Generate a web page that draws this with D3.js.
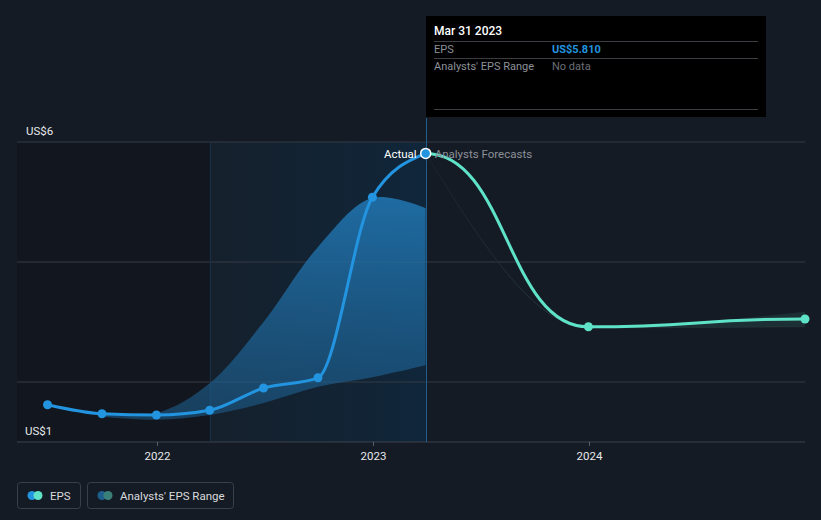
<!DOCTYPE html>
<html><head><meta charset="utf-8">
<script src="https://cdn.jsdelivr.net/npm/d3@7"></script>
<style>
html,body{margin:0;padding:0;background:#151b24;}
svg{display:block;font-family:Roboto,"Open Sans",sans-serif;}
</style></head>
<body>
<svg id="chart" width="821" height="520"></svg>
<script>
// ---- data ----
const actualDates = ["2021-06-30","2021-09-30","2021-12-31","2022-03-31","2022-06-30","2022-09-30","2022-12-31","2023-03-31"];
const actualEPS   = [1.62, 1.47, 1.45, 1.53, 1.90, 2.07, 5.08, 5.81];

const rangeDates  = ["2021-09-30","2021-12-31","2022-03-31","2022-06-30","2022-09-30","2022-12-31","2023-03-31"];
const rangeHigh   = [1.47, 1.48, 1.98, 3.00, 4.25, 5.07, 4.90];
const rangeLow    = [1.42, 1.37, 1.45, 1.65, 1.92, 2.08, 2.28];

const forecastDates = ["2023-03-31","2023-12-31","2024-12-31"];
const forecastEPS   = [5.81, 2.92, 3.05];
const forecastHigh  = [5.81, 2.92, 3.17];
const forecastLow   = [5.81, 2.90, 2.92];

const yTicks = [1, 2, 4, 6];
const yLabels = ["US$1", "US$6"];
const xTickYears = [2022, 2023, 2024];

// ---- setup ----
const svg = d3.select("#chart");
const parse = d3.timeParse("%Y-%m-%d");
const x = d3.scaleTime().domain([new Date(2022,0,1), new Date(2024,0,1)]).range([157, 589]);
const y = d3.scaleLinear().domain([1, 6]).range([442, 142]);
const left = 17, right = 805;
const cutDate = parse("2023-03-31");
const startRange = parse("2022-03-31");

const defs = svg.append("defs");
const g1 = defs.append("linearGradient").attr("id","hl").attr("x1","0").attr("x2","1").attr("y1","0").attr("y2","0");
g1.append("stop").attr("offset","0").attr("stop-color","#15202c");
g1.append("stop").attr("offset","1").attr("stop-color","#10263a");
const g2 = defs.append("linearGradient").attr("id","rangeFill").attr("x1","0").attr("x2","0").attr("y1","0").attr("y2","1");
g2.append("stop").attr("offset","0").attr("stop-color","#2178b5").attr("stop-opacity",0.85);
g2.append("stop").attr("offset","1").attr("stop-color","#1d5f8f").attr("stop-opacity",0.55);

// background zones
svg.append("rect").attr("x",left).attr("y",142).attr("width",x(startRange)-left).attr("height",300).attr("fill","#12161e");
svg.append("rect").attr("x",x(startRange)).attr("y",142).attr("width",x(cutDate)-x(startRange)).attr("height",300).attr("fill","url(#hl)");

// gridlines
svg.append("g").selectAll("line").data(yTicks).join("line")
  .attr("x1",left).attr("x2",right).attr("y1",d=>y(d)).attr("y2",d=>y(d))
  .attr("stroke", d=> d===1 ? "#3c424c" : "#343a44").attr("stroke-width",1);

// vertical markers
svg.append("line").attr("x1",Math.round(x(startRange))+0.5).attr("x2",Math.round(x(startRange))+0.5).attr("y1",142).attr("y2",442).attr("stroke","#182f44").attr("stroke-width",1);

// historic range area
const rangeData = rangeDates.map((d,i)=>({d:parse(d),h:rangeHigh[i],l:rangeLow[i]}));
svg.append("path").datum(rangeData)
  .attr("d", d3.area().x(d=>x(d.d)).y0(d=>y(d.l)).y1(d=>y(d.h)).curve(d3.curveCatmullRom.alpha(0.5)))
  .attr("fill","url(#rangeFill)");

// forecast range
const fData = forecastDates.map((d,i)=>({d:parse(d),v:forecastEPS[i],h:forecastHigh[i],l:forecastLow[i]}));
svg.append("path").datum(fData)
  .attr("d", d3.line().x(d=>x(d.d)).y(d=>y(d.l)).curve(d3.curveMonotoneX))
  .attr("fill","none").attr("stroke","#1e252e").attr("stroke-width",1);
svg.append("path").datum(fData)
  .attr("d", d3.area().x(d=>x(d.d)).y0(d=>y(d.l)).y1(d=>y(d.h)).curve(d3.curveMonotoneX))
  .attr("fill","#5fe3c8").attr("fill-opacity",0.1);

// cut line
svg.append("line").attr("x1",Math.round(x(cutDate))+0.5).attr("x2",Math.round(x(cutDate))+0.5).attr("y1",118).attr("y2",442).attr("stroke","#1f5f8f").attr("stroke-width",1);

// forecast line
svg.append("path").datum(fData)
  .attr("d", d3.line().x(d=>x(d.d)).y(d=>y(d.v)).curve(d3.curveBumpX))
  .attr("fill","none").attr("stroke","#5fe3c8").attr("stroke-width",3);
svg.append("g").selectAll("circle").data(fData.slice(1)).join("circle")
  .attr("cx",d=>x(d.d)).attr("cy",d=>y(d.v)).attr("r",4.5).attr("fill","#5fe3c8");

// actual line
const aData = actualDates.map((d,i)=>({d:parse(d),v:actualEPS[i]}));
svg.append("path").datum(aData)
  .attr("d", d3.line().x(d=>x(d.d)).y(d=>y(d.v)).curve(d3.curveMonotoneX))
  .attr("fill","none").attr("stroke","#2394df").attr("stroke-width",3);
svg.append("g").selectAll("circle").data(aData.slice(0,-1)).join("circle")
  .attr("cx",d=>x(d.d)).attr("cy",d=>y(d.v)).attr("r",4.5).attr("fill","#2394df");
const last = aData[aData.length-1];
svg.append("circle").attr("cx",x(last.d)).attr("cy",y(last.v)).attr("r",5).attr("fill","#2394df").attr("stroke","#ffffff").attr("stroke-width",1.5);

// labels Actual / Analysts Forecasts
svg.append("text").attr("x",x(last.d)-9).attr("y",y(last.v)+4.5).attr("text-anchor","end")
  .attr("fill","#ffffff").attr("font-size",11.5).text("Actual");
svg.append("text").attr("x",x(last.d)+9).attr("y",y(last.v)+4.5)
  .attr("fill","#8c9099").attr("font-size",11.5).text("Analysts Forecasts");

// y labels
svg.append("text").attr("x",26).attr("y",y(6)-7).attr("fill","#e6e8eb").attr("font-size",11.5).text(yLabels[1]);
svg.append("text").attr("x",25).attr("y",y(1)-7).attr("fill","#e6e8eb").attr("font-size",11.5).text(yLabels[0]);

// x axis
const xa = svg.append("g").attr("transform","translate(0,442)")
  .call(d3.axisBottom(x).tickValues(xTickYears.map(yr=>new Date(yr,0,1))).tickFormat(d3.timeFormat("%Y")).tickSize(4).tickPadding(6));
xa.select(".domain").remove();
xa.selectAll("line").attr("stroke","#5a606a");
xa.selectAll("text").attr("fill","#e6e8eb").attr("font-size",11.5).attr("font-family","Roboto,sans-serif");

// tooltip
const tt = svg.append("g").attr("transform","translate(426,16)");
tt.append("rect").attr("width",340).attr("height",101).attr("fill","#000000");
tt.append("text").attr("x",8).attr("y",19).attr("fill","#ffffff").attr("font-size",12).attr("font-weight",500).text("Mar 31 2023");
[25.5,42.5,93.5].forEach(yy=>tt.append("line").attr("x1",8).attr("x2",332).attr("y1",yy).attr("y2",yy).attr("stroke","#3a3d42"));
tt.append("text").attr("x",8).attr("y",37).attr("fill","#8c9099").attr("font-size",11).text("EPS");
tt.append("text").attr("x",126).attr("y",37).attr("fill","#2394df").attr("font-size",11).attr("font-weight",700).text("US$" + d3.format(".3f")(last.v));
tt.append("text").attr("x",8).attr("y",54).attr("fill","#8c9099").attr("font-size",11).text("Analysts' EPS Range");
tt.append("text").attr("x",126).attr("y",54).attr("fill","#6a6e75").attr("font-size",11).text("No data");

// legend
const lg = svg.append("g");
lg.append("rect").attr("x",17.5).attr("y",482.5).attr("width",63).attr("height",26).attr("rx",3).attr("fill","none").attr("stroke","#3a404a");
lg.append("circle").attr("cx",32).attr("cy",495.5).attr("r",4.5).attr("fill","#2394df");
lg.append("circle").attr("cx",38).attr("cy",495.5).attr("r",4.5).attr("fill","#5fe3c8");
lg.append("text").attr("x",50).attr("y",499.5).attr("fill","#d8dadd").attr("font-size",11.5).text("EPS");
lg.append("rect").attr("x",87.5).attr("y",482.5).attr("width",146).attr("height",26).attr("rx",3).attr("fill","none").attr("stroke","#3a404a");
lg.append("circle").attr("cx",102).attr("cy",495.5).attr("r",4.5).attr("fill","#1e5f8e");
lg.append("circle").attr("cx",108).attr("cy",495.5).attr("r",4.5).attr("fill","#3a8079");
lg.append("text").attr("x",120).attr("y",499.5).attr("fill","#d8dadd").attr("font-size",11.5).text("Analysts' EPS Range");
</script>
</body></html>
